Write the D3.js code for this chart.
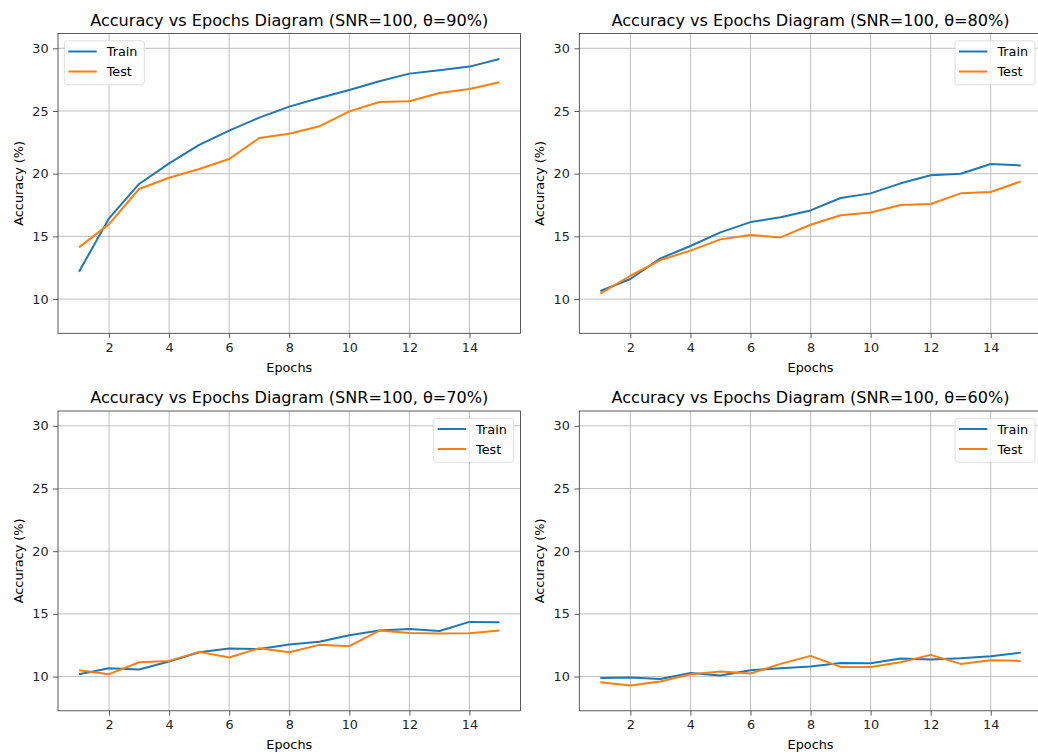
<!DOCTYPE html>
<html lang="en">
<head>
    <meta charset="UTF-8">
    <title>Accuracy vs Epochs</title>
    <script src="https://d3js.org/d3.v7.min.js"></script>
    <style>
        body { margin: 0; background: white; }
        svg { display: block; }
        text {
            font-family: "DejaVu Sans", sans-serif;
            fill: black;
        }
    </style>
</head>
<body>
<script>
    const width = 1038;
    const height = 756;

    const epochs = d3.range(1, 16);
    const xTicks = [2, 4, 6, 8, 10, 12, 14];
    const yTicks = [10, 15, 20, 25, 30];

    // one entry per panel
    const thetas = ["90%", "80%", "70%", "60%"];

    const train90 = [12.18, 16.44, 19.18, 20.82, 22.29, 23.43, 24.47, 25.35, 26.04, 26.68, 27.37, 27.98, 28.24, 28.54, 29.15];
    const test90  = [14.12, 15.98, 18.78, 19.68, 20.37, 21.17, 22.85, 23.19, 23.78, 24.97, 25.72, 25.77, 26.44, 26.76, 27.29];

    const train80 = [10.64, 11.60, 13.24, 14.23, 15.32, 16.14, 16.52, 17.07, 18.06, 18.43, 19.23, 19.87, 20.00, 20.77, 20.66];
    const test80  = [10.43, 11.86, 13.11, 13.86, 14.76, 15.11, 14.92, 15.93, 16.68, 16.91, 17.50, 17.58, 18.43, 18.54, 19.39];

    const train70 = [10.19, 10.66, 10.56, 11.20, 11.94, 12.23, 12.20, 12.55, 12.77, 13.30, 13.67, 13.80, 13.64, 14.36, 14.33];
    const test70  = [10.51, 10.19, 11.14, 11.25, 11.97, 11.52, 12.26, 11.94, 12.53, 12.42, 13.67, 13.48, 13.43, 13.46, 13.67];

    const train60 = [9.89, 9.92, 9.81, 10.29, 10.08, 10.51, 10.66, 10.80, 11.09, 11.06, 11.44, 11.36, 11.46, 11.62, 11.91];
    const test60  = [9.55, 9.28, 9.60, 10.19, 10.40, 10.24, 11.01, 11.65, 10.77, 10.77, 11.14, 11.73, 11.01, 11.30, 11.25];

    const panels = [
        {theta: thetas[0], train: train90, test: test90, left: 58, top: 33.5, legend: "left"},
        {theta: thetas[1], train: train80, test: test80, left: 579.3, top: 33.5, legend: "right"},
        {theta: thetas[2], train: train70, test: test70, left: 58, top: 411, legend: "right"},
        {theta: thetas[3], train: train60, test: test60, left: 579.3, top: 411, legend: "right"}
    ];

    const pw = 462.5, ph = 299.8;
    const colors = {Train: "#1f77b4", Test: "#ff7f0e"};

    const svg = d3.select("body").append("svg")
            .attr("width", width).attr("height", height);

    const x = d3.scaleLinear().domain([0.3, 15.7]).range([0, pw]);
    const y = d3.scaleLinear().domain([7.27, 31.18]).range([ph, 0]);

    panels.forEach(drawPanel);

    function drawPanel(p) {
        const g = svg.append("g").attr("transform", `translate(${p.left},${p.top})`);

        // grid
        g.append("g").selectAll("line").data(xTicks).join("line")
                .attr("x1", d => x(d)).attr("x2", d => x(d))
                .attr("y1", 0).attr("y2", ph)
                .style("stroke", "#b0b0b0").style("stroke-width", 0.8);
        g.append("g").selectAll("line").data(yTicks).join("line")
                .attr("y1", d => y(d)).attr("y2", d => y(d))
                .attr("x1", 0).attr("x2", pw)
                .style("stroke", "#b0b0b0").style("stroke-width", 0.8);

        const xAxis = g.append("g").attr("transform", `translate(0,${ph})`)
                .call(d3.axisBottom(x).tickValues(xTicks).tickSize(4.9).tickPadding(4.5).tickFormat(d3.format("d")));
        const yAxis = g.append("g")
                .call(d3.axisLeft(y).tickValues(yTicks).tickSize(4.9).tickPadding(4.5).tickFormat(d3.format("d")));
        [xAxis, yAxis].forEach(a => {
            a.select(".domain").remove();
            a.selectAll(".tick line").style("stroke", "#333").style("stroke-width", 0.8);
            a.selectAll(".tick text").style("font-size", "12.8px").style("font-family", "DejaVu Sans").style("fill", "#222");
        });

        const line = d3.line().x((d, i) => x(epochs[i])).y(d => y(d));
        [["Train", p.train], ["Test", p.test]].forEach(([name, vals]) => {
            g.append("path").datum(vals)
                    .attr("d", line)
                    .style("fill", "none")
                    .style("stroke", colors[name])
                    .style("stroke-width", 2)
                    .style("stroke-linejoin", "round");
        });

        // frame
        g.append("rect").attr("width", pw).attr("height", ph)
                .style("fill", "none").style("stroke", "#333").style("stroke-width", 0.8);

        g.append("text")
                .attr("x", pw / 2).attr("y", -7.7)
                .attr("text-anchor", "middle")
                .style("font-size", "16.1px")
                .text(`Accuracy vs Epochs Diagram (SNR=100, θ=${p.theta})`);

        g.append("text")
                .attr("x", pw / 2).attr("y", ph + 38.5)
                .attr("text-anchor", "middle")
                .style("font-size", "12.8px")
                .text("Epochs");

        g.append("text")
                .attr("transform", `translate(-35.5,${ph / 2}) rotate(-90)`)
                .attr("text-anchor", "middle")
                .style("font-size", "12.8px")
                .text("Accuracy (%)");

        drawLegend(g, p.legend);
    }

    function drawLegend(g, side) {
        const lw = 80, lh = 44;
        const lx = side === "left" ? 6.3 : pw - 6.8 - lw;
        const lg = g.append("g").attr("transform", `translate(${lx},7.3)`);
        lg.append("rect").attr("width", lw).attr("height", lh).attr("rx", 3)
                .style("fill", "white").style("fill-opacity", 0.8)
                .style("stroke", "#d6d6d6").style("stroke-width", 0.8);
        ["Train", "Test"].forEach((name, i) => {
            const cy = 10.7 + i * 20;
            lg.append("line").attr("x1", 4).attr("x2", 32.4)
                    .attr("y1", cy).attr("y2", cy)
                    .style("stroke", colors[name]).style("stroke-width", 2);
            lg.append("text").attr("x", 42.4).attr("y", cy + 4.6)
                    .style("font-size", "12.8px")
                    .text(name);
        });
    }
</script>
</body>
</html>
